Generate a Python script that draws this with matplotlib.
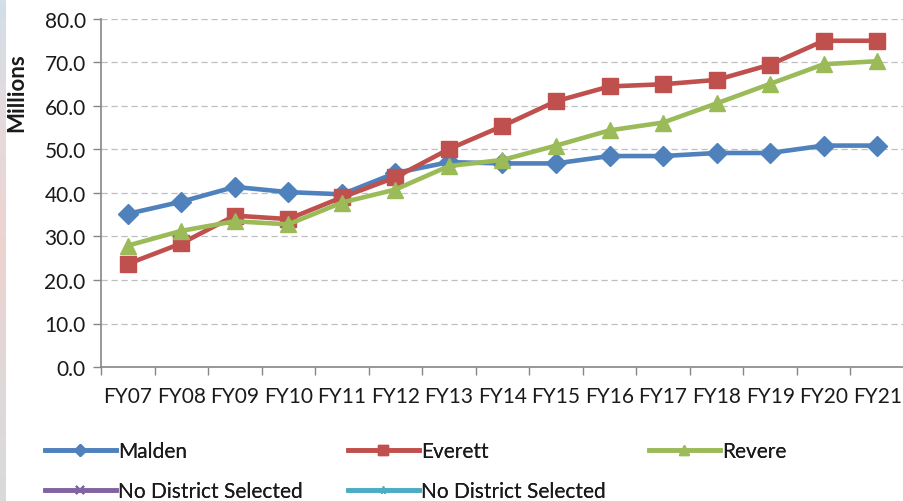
import numpy as np
import matplotlib
matplotlib.use('Agg')
import matplotlib.pyplot as plt
from matplotlib.ticker import FixedLocator
from matplotlib.colors import LinearSegmentedColormap

matplotlib.rcParams['font.family'] = ['Lato', 'DejaVu Sans']

years = ['FY07', 'FY08', 'FY09', 'FY10', 'FY11', 'FY12', 'FY13', 'FY14',
         'FY15', 'FY16', 'FY17', 'FY18', 'FY19', 'FY20', 'FY21']
malden = [35.2, 38.0, 41.4, 40.2, 39.7, 44.6, 47.1, 46.8, 46.8, 48.5, 48.5, 49.2, 49.2, 50.9, 50.9]
everett = [23.7, 28.4, 34.8, 34.0, 39.0, 43.6, 50.1, 55.4, 61.1, 64.5, 65.0, 66.0, 69.5, 75.0, 75.0]
revere = [27.9, 31.3, 33.5, 32.8, 37.8, 40.8, 46.2, 47.6, 50.9, 54.4, 56.2, 60.6, 65.1, 69.6, 70.3]
ylabel = 'Millions'

W, H = 904, 502
fig = plt.figure(figsize=(W / 100, H / 100), dpi=100)

# faint slide background strip at the left edge
bg = fig.add_axes([0, 0, 6 / W, 1])
strip = LinearSegmentedColormap.from_list('strip', ['#D2DEE8', '#E6DADC', '#EDD3D0', '#E0D8D8', '#DADADA'])
bg.imshow(np.linspace(0, 1, 100).reshape(-1, 1), cmap=strip, aspect='auto')
bg.axis('off')

ax = fig.add_axes([101 / W, 1 - 368 / H, 803 / W, 348 / H])

x = np.arange(len(years))
l1, = ax.plot(x, malden, color='#4F81BD', lw=3.3, marker='D', ms=10, label='Malden')
l2, = ax.plot(x, everett, color='#C0504D', lw=3.3, marker='s', ms=12, label='Everett')
l3, = ax.plot(x, revere, color='#9BBB59', lw=3.3, marker='^', ms=12, label='Revere')
l4, = ax.plot([], [], color='#8064A2', lw=3.3, marker='x', ms=9, mew=1.5, label='No District Selected')
l5, = ax.plot([], [], color='#4BACC6', lw=3.3, marker='*', ms=9, label='No District Selected')

ax.set_xlim(-0.5, len(years) - 0.5)
ax.set_ylim(0, 80)
ax.set_yticks(np.arange(0, 81, 10))
ax.set_yticklabels(['%.1f' % v for v in np.arange(0, 81, 10)], fontsize=15, color='#1a1a1a')
ax.set_xticks(x)
ax.set_xticklabels(years, fontsize=15, color='#1a1a1a')
ax.xaxis.set_minor_locator(FixedLocator(np.arange(-0.5, len(years), 1.0)))
ax.tick_params(axis='x', which='major', length=0, pad=14)
ax.tick_params(axis='x', which='minor', length=6, color='#868686', width=1)
ax.tick_params(axis='y', length=6, color='#868686', width=1, pad=5)

ax.grid(axis='y', color='#BFBFBF', linestyle=(0, (5, 3)), lw=0.9)
ax.set_axisbelow(True)
for s in ['top', 'right']:
    ax.spines[s].set_visible(False)
for s in ['left', 'bottom']:
    ax.spines[s].set_color('#868686')
    ax.spines[s].set_linewidth(1.2)

ax.set_ylabel(ylabel, fontsize=16, fontweight='bold', color='#1a1a1a')
ax.yaxis.set_label_coords(-0.092, 0.79)

# legend: three columns placed where the reference has them
cols = [([l1, l4], 45), ([l2, l5], 348), ([l3], 649)]
for handles, px in cols:
    leg = fig.legend(handles=handles, loc='upper left', bbox_to_anchor=(px / W, 1 - 442 / H),
                     frameon=False, fontsize=15, handlelength=3.4, handletextpad=0.1,
                     labelspacing=0.95, borderaxespad=0, borderpad=0, markerscale=0.6)
    for t in leg.get_texts():
        t.set_color('#1a1a1a')
    fig.add_artist(leg)

fig.savefig('out.png', dpi=100)
